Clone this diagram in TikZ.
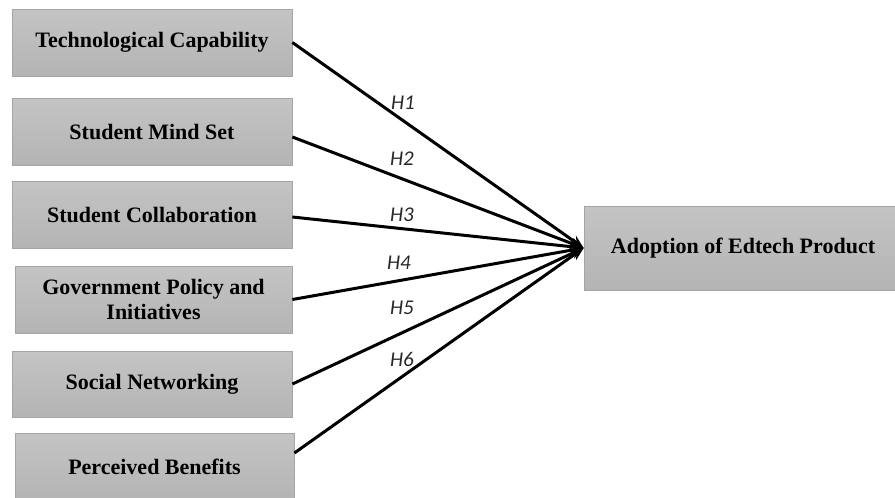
\documentclass[tikz,border=0pt]{standalone}
\usepackage{fontspec}
\setmainfont{Liberation Serif}
\newfontfamily\hypfont{Carlito}
\usetikzlibrary{arrows.meta}
\definecolor{boxtop}{RGB}{196,196,196}
\definecolor{boxbot}{RGB}{180,180,180}
\definecolor{boxedge}{RGB}{165,165,165}
\definecolor{hyptext}{RGB}{40,40,40}
\begin{document}
\begin{tikzpicture}[x=1pt,y=-1pt,
  factor/.style={rectangle, draw=boxedge, line width=0.8pt,
    top color=boxtop, bottom color=boxbot,
    minimum width=280pt, minimum height=67pt, inner sep=0pt,
    align=center, font=\bfseries\fontsize{22}{25}\selectfont},
  link/.style={line width=3pt, -{Stealth[length=13pt,width=11pt]}},
  hyp/.style={font=\hypfont\itshape\fontsize{21}{23}\selectfont, text=hyptext}]
\useasboundingbox (0,0) rectangle (895,498);
\clip (0,0) rectangle (895,498);

% independent factors
\node[factor] (b1) at (152,42.5) {Technological Capability};
\node[factor] (b2) at (152,131.5) {Student Mind Set};
\node[factor] (b3) at (152,214.5) {Student Collaboration};
\node[factor, minimum width=277pt] (b4) at (153.5,299.5) {Government Policy and\\Initiatives};
\node[factor, minimum height=66pt] (b5) at (152,384) {Social Networking};
\node[factor, minimum width=279pt] (b6) at (154.5,466.5) {Perceived Benefits};

% outcome
\node[factor, minimum width=318pt, minimum height=84pt] (out) at (743,248) {Adoption of Edtech Product};

% hypothesised paths
\draw[link] (b1.east) -- (out.west);
\draw[link] ([yshift=-5.5pt]b2.east) -- (out.west);
\draw[link] ([yshift=-2.5pt]b3.east) -- (out.west);
\draw[link] (b4.east) -- (out.west);
\draw[link] (b5.east) -- (out.west);
\draw[link] ([yshift=13.5pt]b6.east) -- (out.west);

% path labels
\node[hyp] (h1) at (403,103) {H1};
\node[hyp] (h2) at (402,159) {H2};
\node[hyp] (h3) at (402,215) {H3};
\node[hyp] (h4) at (399,263) {H4};
\node[hyp] (h5) at (402,308) {H5};
\node[hyp] (h6) at (402,359) {H6};
\end{tikzpicture}
\end{document}
